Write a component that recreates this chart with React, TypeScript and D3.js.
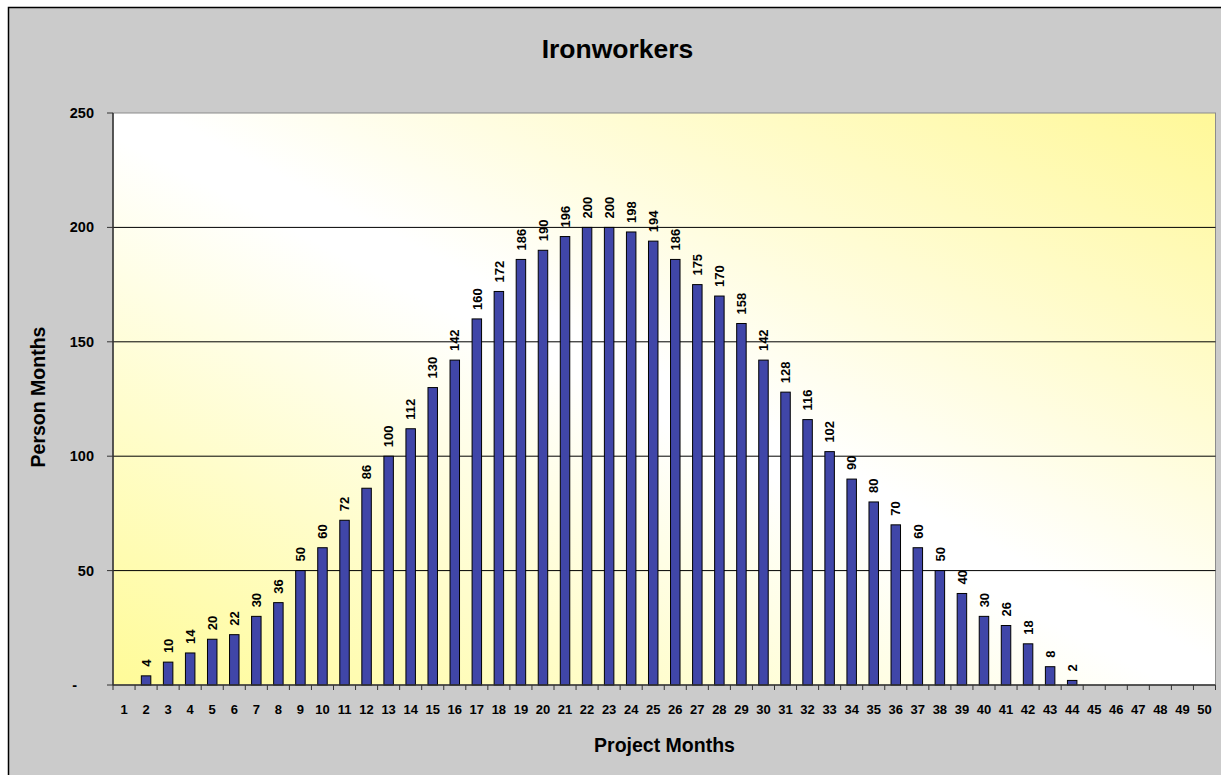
import React from "react";
import * as d3 from "d3";

const months: number[] = d3.range(1, 51);
const values: (number | null)[] = [
  null, 4, 10, 14, 20, 22, 30, 36, 50, 60,
  72, 86, 100, 112, 130, 142, 160, 172, 186, 190,
  196, 200, 200, 198, 194, 186, 175, 170, 158, 142,
  128, 116, 102, 90, 80, 70, 60, 50, 40, 30,
  26, 18, 8, 2, null, null, null, null, null, null,
];
const yTicks: number[] = [0, 50, 100, 150, 200, 250];
const yTickLabels: string[] = ["-", "50", "100", "150", "200", "250"];
const gridValues: number[] = [50, 100, 150, 200];

const title = "Ironworkers";
const xTitle = "Project Months";
const yTitle = "Person Months";

const FONT = "'Liberation Sans', Arial, Helvetica, sans-serif";

export default function App() {
  const W = 1221;
  const H = 775;
  const left = 113;
  const right = 1215.5;
  const top = 113;
  const bottom = 685;

  const x = d3.scaleBand<number>().domain(months).range([left, right]).padding(0);
  const y = d3.scaleLinear().domain([0, 250]).range([bottom, top]);
  const bw = x.bandwidth();
  const barW = bw * 0.43;

  const boundaries = d3.range(0, months.length + 1).map((i) => left + i * bw);

  return (
    <svg
      width={W}
      height={H}
      style={{ position: "absolute", left: 0, top: 0, display: "block" }}
      fontFamily={FONT}
    >
      <defs>
        <linearGradient id="plotGrad" x1="0" y1="1" x2="1" y2="0">
          <stop offset="0%" stopColor="#FFFB98" />
          <stop offset="48%" stopColor="#FFFFFF" />
          <stop offset="52%" stopColor="#FFFFFF" />
          <stop offset="100%" stopColor="#FFF898" />
        </linearGradient>
      </defs>
      <rect x={0} y={0} width={W} height={H} fill="#ffffff" />
      <rect x={8.5} y={7.5} width={W + 20} height={H + 20} fill="#CBCBCB" stroke="#000" strokeWidth={1.5} />

      <text x={617.5} y={58} textAnchor="middle" fontSize={26.5} fontWeight="bold" fill="#000">
        {title}
      </text>

      {/* plot area */}
      <rect x={left} y={top} width={right - left} height={bottom - top} fill="url(#plotGrad)" stroke="#8c8c8c" strokeWidth={1} />

      {/* gridlines */}
      {gridValues.map((v) => (
        <line key={"g" + v} x1={left} x2={right} y1={y(v)} y2={y(v)} stroke="#000" strokeWidth={1} />
      ))}

      {/* bars */}
      {months.map((m, i) => {
        const v = values[i];
        if (v === null || v === 0) return null;
        const cx = (x(m) as number) + bw / 2;
        return (
          <rect
            key={"b" + m}
            x={cx - barW / 2}
            y={y(v)}
            width={barW}
            height={y(0) - y(v)}
            fill="#4046A8"
            stroke="#000"
            strokeWidth={1}
          />
        );
      })}

      {/* bar labels */}
      {months.map((m, i) => {
        const v = values[i];
        if (v === null) return null;
        const cx = (x(m) as number) + bw / 2 + 4.7;
        const ty = y(v) - 9;
        return (
          <text
            key={"l" + m}
            transform={`translate(${cx},${ty}) rotate(-90)`}
            fontSize={13}
            fontWeight="bold"
            fill="#000"
            textAnchor="start"
          >
            {v}
          </text>
        );
      })}

      {/* axes lines */}
      <line x1={left} x2={left} y1={top} y2={bottom} stroke="#333" strokeWidth={1.5} />
      <line x1={left} x2={right} y1={bottom} y2={bottom} stroke="#333" strokeWidth={1.5} />

      {/* y ticks */}
      {yTicks.map((t, i) => (
        <g key={"yt" + t}>
          <line x1={107} x2={left} y1={y(t)} y2={y(t)} stroke="#333" strokeWidth={1} />
          <text
            x={yTickLabels[i] === "-" ? 77 : 94}
            y={y(t) + 5}
            textAnchor="end"
            fontSize={14.5}
            fontWeight="bold"
            fill="#000"
          >
            {yTickLabels[i]}
          </text>
        </g>
      ))}

      {/* x ticks */}
      {boundaries.map((bx, i) => (
        <line key={"xt" + i} x1={bx} x2={bx} y1={bottom} y2={bottom + 5} stroke="#333" strokeWidth={1} />
      ))}
      {months.map((m) => (
        <text
          key={"xl" + m}
          x={(x(m) as number) + bw / 2}
          y={714}
          textAnchor="middle"
          fontSize={13}
          fontWeight="bold"
          fill="#000"
        >
          {m}
        </text>
      ))}

      <text x={664.5} y={752} textAnchor="middle" fontSize={19.5} fontWeight="bold" fill="#000">
        {xTitle}
      </text>
      <text
        transform={`translate(45,397) rotate(-90)`}
        textAnchor="middle"
        fontSize={19.5}
        fontWeight="bold"
        fill="#000"
      >
        {yTitle}
      </text>
    </svg>
  );
}
